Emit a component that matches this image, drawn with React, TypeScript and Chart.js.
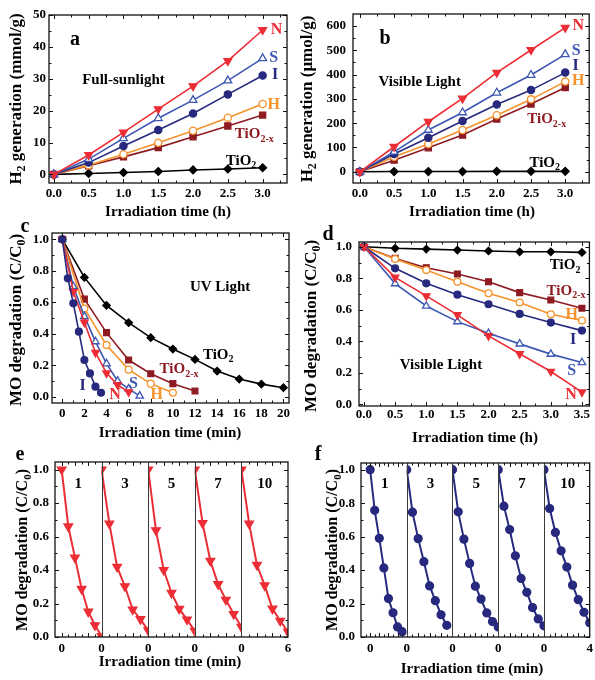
import React, { useEffect, useRef } from "react";
import { Chart, registerables } from "chart.js";
Chart.register(...registerables);

const FAMILY = "'Liberation Serif', 'Times New Roman', Times, serif";

const RED = "#ec2d35";
const BLUE = "#3d57b2";
const NAVY = "#26297d";
const ORANGE = "#f5922a";
const DARKRED = "#8e1b22";
const BLACK = "#000000";

// ---------------- Panel a : H2, full sunlight (mmol/g) ----------------
const timeH = [0, 0.5, 1, 1.5, 2, 2.5, 3];
const aN = [0, 6.1, 13.2, 20.5, 27.7, 35.6, 45.3];
const aS = [0, 4.8, 11.3, 17.6, 23.3, 29.4, 36.4];
const aI = [0, 3.7, 8.9, 13.9, 19.1, 25.1, 31.0];
const aH = [0, 2.9, 6.3, 9.9, 13.7, 17.8, 22.1];
const aTiO2x = [0, 2.7, 5.5, 8.4, 11.8, 15.2, 18.6];
const aTiO2 = [0, 0.3, 0.6, 0.9, 1.4, 1.7, 2.1];

// ---------------- Panel b : H2, visible light (umol/g) ----------------
const bN = [0, 103, 206, 302, 408, 501, 593];
const bS = [0, 82, 172, 244, 325, 398, 483];
const bI = [0, 73, 140, 209, 277, 336, 408];
const bH = [0, 62, 114, 172, 233, 298, 371];
const bTiO2x = [0, 48, 99, 151, 217, 279, 347];
const bTiO2 = [0, 1, 1, 1, 2, 2, 2];

// ---------------- Panel c : MO degradation, UV ----------------
const cTimeTiO2 = [0, 2, 4, 6, 8, 10, 12, 14, 16, 18, 20];
const cTiO2 = [1.0, 0.758, 0.58, 0.47, 0.375, 0.303, 0.237, 0.163, 0.112, 0.08, 0.057];
const cTimeTiO2x = [0, 2, 4, 6, 8, 10, 12];
const cTiO2x = [1.0, 0.62, 0.407, 0.233, 0.146, 0.083, 0.036];
const cTimeH = [0, 2, 4, 6, 8, 10];
const cH = [1.0, 0.56, 0.328, 0.172, 0.083, 0.025];
const cTimeS = [0, 1, 2, 3, 4, 5, 6, 7];
const cS = [1.0, 0.7, 0.51, 0.35, 0.21, 0.1, 0.05, 0.005];
const cTimeN = [0, 1, 2, 3, 4, 5, 6];
const cN = [1.0, 0.667, 0.472, 0.28, 0.15, 0.075, 0.03];
const cTimeI = [0, 0.5, 1, 1.5, 2, 2.5, 3, 3.5];
const cI = [1.0, 0.752, 0.593, 0.413, 0.233, 0.148, 0.064, 0.025];

// ---------------- Panel d : MO degradation, visible ----------------
const dTime = [0, 0.5, 1, 1.5, 2, 2.5, 3, 3.5];
const dTiO2 = [1.0, 0.99, 0.985, 0.979, 0.973, 0.968, 0.968, 0.964];
const dTiO2x = [1.0, 0.926, 0.867, 0.827, 0.778, 0.709, 0.662, 0.61];
const dH = [1.0, 0.922, 0.852, 0.778, 0.705, 0.646, 0.572, 0.532];
const dI = [1.0, 0.863, 0.768, 0.696, 0.635, 0.574, 0.519, 0.468];
const dS = [1.0, 0.766, 0.624, 0.525, 0.451, 0.384, 0.319, 0.266];
const dN = [1.0, 0.806, 0.688, 0.568, 0.435, 0.321, 0.209, 0.078];

// ---------------- Panel e : cycling, N sample ----------------
const cycleNames = ["1", "3", "5", "7", "10"];
const eTime = [0, 1, 2, 3, 4, 5, 6];
const eDomains = [[-1, 6], [0, 6], [0, 6], [0, 6], [0, 6]];
const eCycle1 = [1.0, 0.66, 0.474, 0.287, 0.151, 0.07, 0.005];
const eCycle2 = [1.0, 0.677, 0.419, 0.303, 0.164, 0.106, 0.04];
const eCycle3 = [1.0, 0.637, 0.4, 0.263, 0.168, 0.104, 0.036];
const eCycle4 = [1.0, 0.68, 0.455, 0.315, 0.222, 0.137, 0.06];
const eCycle5 = [1.0, 0.677, 0.43, 0.308, 0.169, 0.097, 0.03];
const eTickLabels = ["0", "0", "0", "0", "0", "6"];

// ---------------- Panel f : cycling, I sample ----------------
const fTime = [0, 0.5, 1, 1.5, 2, 2.5, 3, 3.5, 4];
const fDomains = [[-1, 4], [0, 4], [0, 4], [0, 4], [0, 4]];
const fCycle1 = [1.0, 0.757, 0.59, 0.413, 0.23, 0.145, 0.06, 0.032];
const fCycle2 = [1.0, 0.746, 0.588, 0.45, 0.305, 0.217, 0.133, 0.07];
const fCycle3 = [1.0, 0.748, 0.585, 0.44, 0.304, 0.227, 0.144, 0.092, 0.06];
const fCycle4 = [1.0, 0.782, 0.642, 0.485, 0.35, 0.267, 0.176, 0.108, 0.067];
const fCycle5 = [1.0, 0.768, 0.625, 0.515, 0.418, 0.31, 0.223, 0.148, 0.085];
const fTickLabels = ["0", "0", "0", "0", "0", "4"];

// ---------------- helpers ----------------
const STY: any = {
  N: { color: RED, style: "triangle", rot: 180, fill: true },
  S: { color: BLUE, style: "triangle", rot: 0, fill: false },
  I: { color: NAVY, style: "circle", rot: 0, fill: true },
  H: { color: ORANGE, style: "circle", rot: 0, fill: false },
  X: { color: DARKRED, style: "rect", rot: 0, fill: true },
  T: { color: BLACK, style: "rectRot", rot: 0, fill: true },
};
const RADIUS: any = { N: 4.5, S: 4.5, I: 3.6, H: 3.6, X: 4.3, T: 3.9 };

function ser(xs: number[], ys: number[], key: string, scale = 1, bw = 1.6) {
  const s = STY[key];
  return {
    data: ys.map((y, i) => ({ x: xs[i], y })),
    borderColor: s.color,
    backgroundColor: s.fill ? s.color : "#ffffff",
    pointStyle: s.style,
    pointRotation: s.rot,
    pointRadius: RADIUS[key] * scale,
    pointBorderWidth: 1.3,
    pointBorderColor: s.color,
    pointBackgroundColor: s.fill ? s.color : "#ffffff",
    borderWidth: bw,
    showLine: true,
    tension: 0,
    fill: false,
  };
}

function segX(k: number, t: number, dom: number[]) {
  return k + (t - dom[0]) / (dom[1] - dom[0]);
}

function steps(min: number, max: number, step: number) {
  const out: number[] = [];
  const start = Math.ceil(min / step - 1e-9) * step;
  for (let v = start; v <= max + 1e-9; v += step) out.push(+v.toFixed(6));
  return out;
}

function marks(min: number, max: number, major: number, minor: number) {
  return steps(min, max, minor).map((v) => ({
    v,
    major: Math.abs(v / major - Math.round(v / major)) < 1e-6,
  }));
}

function segMarks(domains: number[][], step: number, majorEvery: number) {
  const out: { v: number; major: boolean }[] = [];
  domains.forEach((dom, k) => {
    steps(dom[0], dom[1], step).forEach((t) => {
      if (t <= dom[0] + 1e-9 || t >= dom[1] - 1e-9) return;
      out.push({ v: segX(k, t, dom), major: Math.abs(t / majorEvery - Math.round(t / majorEvery)) < 1e-6 });
    });
  });
  return out;
}

function parseRich(text: string) {
  const parts: { t: string; sub: boolean }[] = [];
  const re = /_\{([^}]*)\}/g;
  let last = 0;
  let m: any;
  while ((m = re.exec(text))) {
    if (m.index > last) parts.push({ t: text.slice(last, m.index), sub: false });
    parts.push({ t: m[1], sub: true });
    last = m.index + m[0].length;
  }
  if (last < text.length) parts.push({ t: text.slice(last), sub: false });
  return parts;
}

function drawRich(ctx: CanvasRenderingContext2D, text: string, x: number, y: number, size: number, color: string, rot = false) {
  const parts = parseRich(text);
  const subSize = Math.round(size * 0.68);
  const fonts = parts.map((p) => `bold ${p.sub ? subSize : size}px ${FAMILY}`);
  let total = 0;
  const widths = parts.map((p, i) => {
    ctx.font = fonts[i];
    const w = ctx.measureText(p.t).width;
    total += w;
    return w;
  });
  ctx.save();
  ctx.translate(x, y);
  if (rot) ctx.rotate(-Math.PI / 2);
  ctx.fillStyle = color;
  ctx.textBaseline = "alphabetic";
  ctx.textAlign = "left";
  let cx = -total / 2;
  const base = size * 0.34;
  parts.forEach((p, i) => {
    ctx.font = fonts[i];
    ctx.fillText(p.t, cx, base + (p.sub ? size * 0.22 : 0));
    cx += widths[i];
  });
  ctx.restore();
}

function framePlugin(spec: any) {
  return {
    id: "frame",
    beforeDatasetDraw(chart: any, args: any) {
      if (!spec.segOf) return;
      const k = spec.segOf[args.index];
      const { ctx, chartArea: a, scales } = chart;
      const x0 = scales.x.getPixelForValue(k);
      const x1 = scales.x.getPixelForValue(k + 1);
      ctx.save();
      ctx.beginPath();
      ctx.rect(x0, a.top, x1 - x0, a.bottom - a.top);
      ctx.clip();
    },
    afterDatasetDraw(chart: any) {
      if (!spec.segOf) return;
      chart.ctx.restore();
    },
    afterDraw(chart: any) {
      const { ctx, chartArea: a, scales } = chart;
      const xs = scales.x;
      const ys = scales.y;
      ctx.save();
      ctx.strokeStyle = "#3a3a3a";
      ctx.lineWidth = 1;
      (spec.dividers || []).forEach((v: number) => {
        const px = Math.round(xs.getPixelForValue(v)) + 0.5;
        ctx.beginPath();
        ctx.moveTo(px, a.top);
        ctx.lineTo(px, a.bottom);
        ctx.stroke();
      });
      ctx.strokeStyle = "#111";
      ctx.lineWidth = 1;
      spec.xMarks.forEach((m: any) => {
        if (m.v < xs.min || m.v > xs.max) return;
        const px = Math.round(xs.getPixelForValue(m.v)) + 0.5;
        const len = m.major ? 4 : 2.5;
        ctx.beginPath();
        ctx.moveTo(px, a.bottom);
        ctx.lineTo(px, a.bottom - len);
        ctx.moveTo(px, a.top);
        ctx.lineTo(px, a.top + len);
        ctx.stroke();
      });
      spec.yMarks.forEach((m: any) => {
        if (m.v < ys.min || m.v > ys.max) return;
        const py = Math.round(ys.getPixelForValue(m.v)) + 0.5;
        const len = m.major ? 4 : 2.5;
        ctx.beginPath();
        ctx.moveTo(a.left, py);
        ctx.lineTo(a.left + len, py);
        ctx.moveTo(a.right, py);
        ctx.lineTo(a.right - len, py);
        ctx.stroke();
      });
      ctx.strokeStyle = "#111";
      ctx.lineWidth = 1.3;
      ctx.strokeRect(a.left, a.top, a.right - a.left, a.bottom - a.top);
      (spec.labels || []).forEach((l: any) => {
        drawRich(ctx, l.t, xs.getPixelForValue(l.x), ys.getPixelForValue(l.y), l.s || 16, l.c || BLACK);
      });
      (spec.texts || []).forEach((l: any) => {
        drawRich(ctx, l.t, l.x - spec.rect[0], l.y - spec.rect[1], l.s || 15, l.c || BLACK, !!l.rot);
      });
      ctx.restore();
    },
  };
}

function buildConfig(spec: any) {
  const [cl, ct, cw, ch] = spec.rect;
  const [bl, bt, br, bb] = spec.box;
  const tickFont = { family: FAMILY, size: 13, weight: "bold" as const };
  return {
    type: "scatter" as const,
    data: { datasets: spec.datasets },
    options: {
      animation: false as const,
      responsive: false,
      events: [],
      layout: { padding: { left: 0, top: bt - ct, right: cl + cw - br, bottom: 0 } },
      plugins: { legend: { display: false }, tooltip: { enabled: false } },
      scales: {
        x: {
          type: "linear" as const,
          min: spec.x.min,
          max: spec.x.max,
          grid: { display: false, drawTicks: false },
          border: { display: false },
          afterBuildTicks: (s: any) => {
            s.ticks = spec.x.ticks.map((v: number) => ({ value: v }));
          },
          afterFit: (s: any) => {
            s.height = ct + ch - bb;
            s.paddingLeft = 0;
            s.paddingRight = 0;
          },
          ticks: {
            padding: spec.x.pad,
            font: tickFont,
            color: "#000",
            autoSkip: false,
            maxRotation: 0,
            callback: (v: any) => spec.x.fmt(v),
          },
        },
        y: {
          type: "linear" as const,
          min: spec.y.min,
          max: spec.y.max,
          grid: { display: false, drawTicks: false },
          border: { display: false },
          afterBuildTicks: (s: any) => {
            s.ticks = spec.y.ticks.map((v: number) => ({ value: v }));
          },
          afterFit: (s: any) => {
            s.width = bl - cl;
            s.paddingTop = 0;
            s.paddingBottom = 0;
          },
          ticks: {
            padding: spec.y.pad,
            font: tickFont,
            color: "#000",
            autoSkip: false,
            callback: (v: any) => spec.y.fmt(v),
          },
        },
      },
    },
    plugins: [framePlugin(spec)],
  };
}

const f1 = (v: number) => Number(v).toFixed(1);
const f0 = (v: number) => String(Math.round(Number(v)));
const labelAt = (vals: number[], labels: string[]) => (v: number) => {
  const i = vals.findIndex((u) => Math.abs(u - v) < 1e-6);
  return i >= 0 ? labels[i] : "";
};

// ---------------- panel specs ----------------
const unitTicks = steps(0, 1, 0.2);

const specA = {
  rect: [0, 0, 297, 222],
  box: [49, 15, 287, 183],
  x: { min: -0.07, max: 3.35, ticks: steps(0, 3, 0.5), fmt: f1, pad: 3 },
  y: { min: -2.7, max: 50, ticks: steps(0, 50, 10), fmt: f0, pad: 3 },
  xMarks: marks(-0.07, 3.35, 0.5, 0.25),
  yMarks: marks(-2.7, 50, 10, 5),
  datasets: [
    ser(timeH, aN, "N"),
    ser(timeH, aS, "S"),
    ser(timeH, aI, "I"),
    ser(timeH, aH, "H"),
    ser(timeH, aTiO2x, "X"),
    ser(timeH, aTiO2, "T"),
  ],
  labels: [
    { t: "N", x: 3.2, y: 45.8, c: RED },
    { t: "S", x: 3.16, y: 36.9, c: BLUE },
    { t: "I", x: 3.18, y: 31.5, c: NAVY },
    { t: "H", x: 3.16, y: 22.3, c: ORANGE },
    { t: "TiO_{2-x}", x: 2.88, y: 12.9, c: DARKRED, s: 15 },
    { t: "TiO_{2}", x: 2.69, y: 4.7, s: 15 },
    { t: "Full-sunlight", x: 1.0, y: 29.8, s: 15 },
  ],
  texts: [
    { t: "a", x: 75, y: 38, s: 20 },
    { t: "Irradiation time (h)", x: 168, y: 211, s: 15 },
    { t: "H_{2} generation (mmol/g)", x: 15, y: 99, s: 17, rot: true },
  ],
};

const specB = {
  rect: [297, 0, 298, 222],
  box: [353, 14, 591, 183],
  x: { min: -0.1, max: 3.35, ticks: steps(0, 3, 0.5), fmt: f1, pad: 3 },
  y: { min: -46, max: 649, ticks: steps(0, 600, 100), fmt: f0, pad: 7 },
  xMarks: marks(-0.1, 3.35, 0.5, 0.25),
  yMarks: marks(-46, 649, 100, 50),
  datasets: [
    ser(timeH, bN, "N"),
    ser(timeH, bS, "S"),
    ser(timeH, bI, "I"),
    ser(timeH, bH, "H"),
    ser(timeH, bTiO2x, "X"),
    ser(timeH, bTiO2, "T"),
  ],
  labels: [
    { t: "N", x: 3.19, y: 604, c: RED },
    { t: "S", x: 3.16, y: 501, c: BLUE },
    { t: "I", x: 3.15, y: 442, c: NAVY },
    { t: "H", x: 3.19, y: 378, c: ORANGE },
    { t: "TiO_{2-x}", x: 2.73, y: 220, c: DARKRED, s: 15 },
    { t: "TiO_{2}", x: 2.7, y: 41, s: 15 },
    { t: "Visible Light", x: 0.874, y: 375, s: 15 },
  ],
  texts: [
    { t: "b", x: 385, y: 37, s: 20 },
    { t: "Irradiation time (h)", x: 472, y: 211, s: 15 },
    { t: "H_{2} generation (μmol/g)", x: 306, y: 99, s: 17, rot: true },
  ],
};

const specC = {
  rect: [0, 205, 297, 240],
  box: [52, 233, 289, 403],
  x: { min: -0.93, max: 20.5, ticks: steps(0, 20, 2), fmt: f0, pad: 3 },
  y: { min: -0.04, max: 1.04, ticks: unitTicks, fmt: f1, pad: 3 },
  xMarks: marks(-0.93, 20.5, 2, 1),
  yMarks: marks(-0.04, 1.04, 0.2, 0.1),
  datasets: [
    ser(cTimeI, cI, "I", 0.95),
    ser(cTimeN, cN, "N", 0.95),
    ser(cTimeS, cS, "S", 0.95),
    ser(cTimeH, cH, "H", 0.95),
    ser(cTimeTiO2x, cTiO2x, "X", 0.95),
    ser(cTimeTiO2, cTiO2, "T", 0.95),
  ],
  labels: [
    { t: "UV Light", x: 14.27, y: 0.703, s: 15 },
    { t: "TiO_{2}", x: 14.1, y: 0.271, s: 15 },
    { t: "TiO_{2-x}", x: 10.56, y: 0.18, c: DARKRED, s: 15 },
    { t: "I", x: 1.84, y: 0.074, c: NAVY },
    { t: "N", x: 4.77, y: 0.021, c: RED },
    { t: "S", x: 6.43, y: 0.089, c: BLUE },
    { t: "H", x: 8.54, y: 0.021, c: ORANGE },
  ],
  texts: [
    { t: "c", x: 25, y: 225, s: 20 },
    { t: "Irradiation time (min)", x: 170, y: 432, s: 15 },
    { t: "MO degradation (C/C_{0})", x: 15, y: 320, s: 17, rot: true },
  ],
};

const specD = {
  rect: [297, 205, 298, 240],
  box: [359, 242, 591, 406],
  x: { min: -0.08, max: 3.62, ticks: steps(0, 3.5, 0.5), fmt: f1, pad: 1 },
  y: { min: -0.01, max: 1.03, ticks: unitTicks, fmt: f1, pad: 7 },
  xMarks: marks(-0.08, 3.62, 0.5, 0.25),
  yMarks: marks(-0.01, 1.03, 0.2, 0.1),
  datasets: [
    ser(dTime, dN, "N", 0.95),
    ser(dTime, dS, "S", 0.95),
    ser(dTime, dI, "I", 0.95),
    ser(dTime, dH, "H", 0.95),
    ser(dTime, dTiO2x, "X", 0.95),
    ser(dTime, dTiO2, "T", 0.95),
  ],
  labels: [
    { t: "TiO_{2}", x: 3.23, y: 0.888, s: 15 },
    { t: "TiO_{2-x}", x: 3.245, y: 0.726, c: DARKRED, s: 15 },
    { t: "H", x: 3.335, y: 0.578, c: ORANGE },
    { t: "I", x: 3.36, y: 0.42, c: NAVY },
    { t: "S", x: 3.335, y: 0.219, c: BLUE },
    { t: "N", x: 3.325, y: 0.068, c: RED },
    { t: "Visible Light", x: 1.237, y: 0.255, s: 15 },
  ],
  texts: [
    { t: "d", x: 328, y: 233, s: 20 },
    { t: "Irradiation time (h)", x: 475, y: 437, s: 15 },
    { t: "MO degradation (C/C_{0})", x: 310, y: 326, s: 17, rot: true },
  ],
};

const eCycles = [eCycle1, eCycle2, eCycle3, eCycle4, eCycle5];
const eTickVals = [segX(0, 0, eDomains[0]), 1, 2, 3, 4, 5];
const specE = {
  rect: [0, 435, 297, 245],
  box: [55, 462, 288, 637],
  x: { min: 0, max: 5, ticks: eTickVals, fmt: labelAt(eTickVals, eTickLabels), pad: 4 },
  y: { min: 0, max: 1.045, ticks: unitTicks, fmt: f1, pad: 6 },
  xMarks: segMarks(eDomains, 1, 2),
  yMarks: marks(0, 1.045, 0.2, 0.1),
  dividers: [1, 2, 3, 4],
  segOf: [0, 1, 2, 3, 4],
  datasets: eCycles.map((vals, k) =>
    ser(eTime.slice(0, vals.length).map((t) => segX(k, t, eDomains[k])), vals, "N", 1.1, 2)
  ),
  labels: cycleNames.map((n, k) => ({ t: n, x: k + 0.5, y: 0.92, s: 15 })),
  texts: [
    { t: "e", x: 20, y: 453, s: 20 },
    { t: "Irradiation time (min)", x: 170, y: 661, s: 15 },
    { t: "MO degradation (C/C_{0})", x: 22, y: 550, s: 16, rot: true },
  ],
};

const fCycles = [fCycle1, fCycle2, fCycle3, fCycle4, fCycle5];
const fTickVals = [segX(0, 0, fDomains[0]), 1, 2, 3, 4, 5];
const specF = {
  rect: [297, 435, 298, 245],
  box: [361, 463, 593, 637],
  x: { min: 0, max: 5, ticks: fTickVals, fmt: labelAt(fTickVals, fTickLabels), pad: 4 },
  y: { min: 0, max: 1.04, ticks: unitTicks, fmt: f1, pad: 6 },
  xMarks: segMarks(fDomains, 0.5, 1),
  yMarks: marks(0, 1.04, 0.2, 0.1),
  dividers: [1, 2, 3, 4],
  segOf: [0, 1, 2, 3, 4],
  datasets: fCycles.map((vals, k) =>
    ser(fTime.slice(0, vals.length).map((t) => segX(k, t, fDomains[k])), vals, "I", 1.1, 2)
  ),
  labels: cycleNames.map((n, k) => ({ t: n, x: k + 0.52, y: 0.92, s: 15 })),
  texts: [
    { t: "f", x: 318, y: 453, s: 20 },
    { t: "Irradiation time (min)", x: 472, y: 668, s: 15 },
    { t: "MO degradation (C/C_{0})", x: 332, y: 550, s: 16, rot: true },
  ],
};

function Panel({ spec }: { spec: any }) {
  const ref = useRef<HTMLCanvasElement>(null);
  useEffect(() => {
    const chart = new Chart(ref.current as HTMLCanvasElement, buildConfig(spec) as any);
    return () => chart.destroy();
  }, [spec]);
  const [l, t, w, h] = spec.rect;
  return (
    <canvas
      ref={ref}
      width={w}
      height={h}
      style={{ position: "absolute", left: l, top: t, width: w, height: h }}
    />
  );
}

export default function App() {
  return (
    <div style={{ position: "absolute", left: 0, top: 0, width: 595, height: 680, background: "#fff" }}>
      {[specA, specB, specC, specD, specE, specF].map((s, i) => (
        <Panel key={i} spec={s} />
      ))}
    </div>
  );
}
